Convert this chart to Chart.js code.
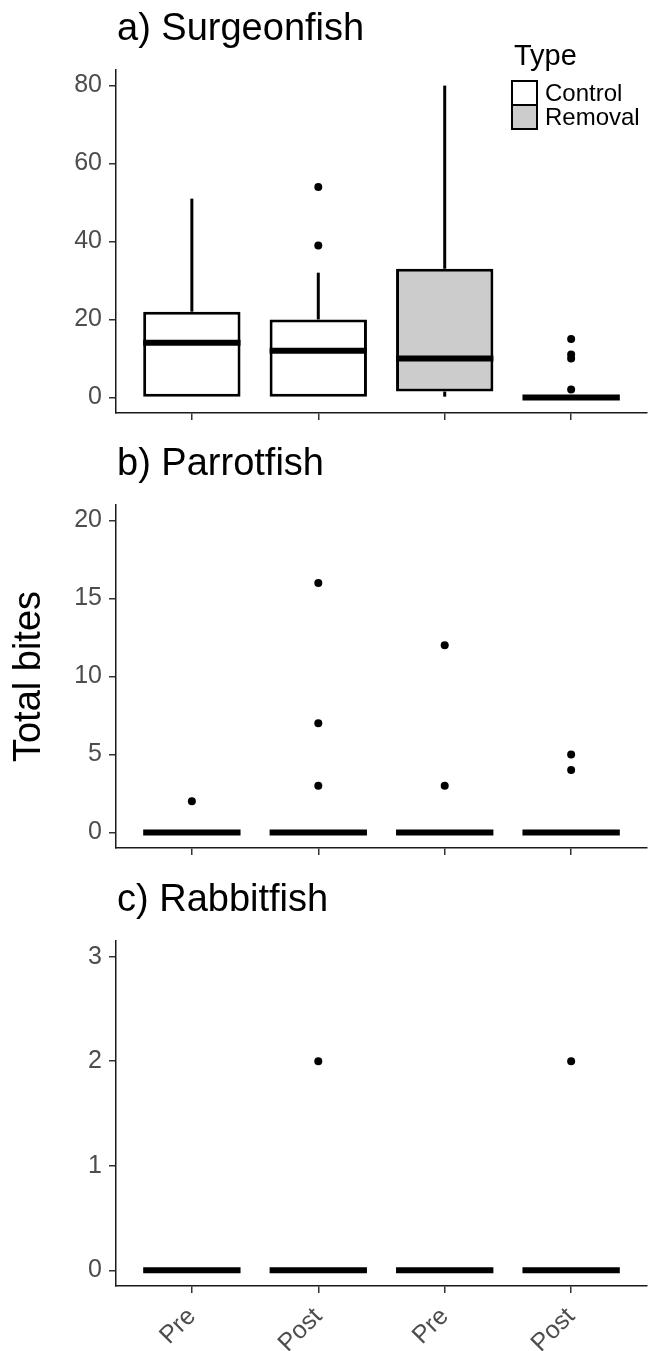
<!DOCTYPE html>
<html>
<head>
<meta charset="utf-8">
<script src="https://cdn.jsdelivr.net/npm/chart.js@4.4.1/dist/chart.umd.min.js"></script>
<style>
  html, body { margin: 0; padding: 0; background: #fff; }
  #fig { position: relative; width: 651px; height: 1351px; overflow: hidden; background: #fff; }
  .panel { position: absolute; left: 0; width: 651px; }
  canvas { display: block; }
</style>
</head>
<body>
<div id="fig">
  <div class="panel" style="top:0;height:435px"><canvas id="surgeon" width="651" height="435"></canvas></div>
  <div class="panel" style="top:435px;height:435px"><canvas id="parrot" width="651" height="435"></canvas></div>
  <div class="panel" style="top:870px;height:481px"><canvas id="rabbit" width="651" height="481"></canvas></div>
</div>
<script>
// Groups along the x axis and the treatment type of each
const groups = ['Pre', 'Post', 'Pre', 'Post'];
const groupTypes = ['Control', 'Control', 'Removal', 'Removal'];
const typeNames = ['Control', 'Removal'];

// a) Surgeonfish: box-plot summaries per group
const surgeonLow = [0, 0, 0, 0];
const surgeonQ1 = [0, 0, 1.5, 0];
const surgeonMedian = [14, 12, 10, 0];
const surgeonQ3 = [22, 20, 33, 0];
const surgeonHigh = [51, 32, 80, 0];
const surgeonOutliers = [[], [39, 54], [], [2, 10, 11, 15]];
const surgeonTicks = [0, 20, 40, 60, 80];
const surgeonLimits = [0, 80];

// b) Parrotfish
const parrotLow = [0, 0, 0, 0];
const parrotQ1 = [0, 0, 0, 0];
const parrotMedian = [0, 0, 0, 0];
const parrotQ3 = [0, 0, 0, 0];
const parrotHigh = [0, 0, 0, 0];
const parrotOutliers = [[2], [3, 7, 16], [3, 12], [4, 5]];
const parrotTicks = [0, 5, 10, 15, 20];
const parrotLimits = [0, 20];

// c) Rabbitfish
const rabbitLow = [0, 0, 0, 0];
const rabbitQ1 = [0, 0, 0, 0];
const rabbitMedian = [0, 0, 0, 0];
const rabbitQ3 = [0, 0, 0, 0];
const rabbitHigh = [0, 0, 0, 0];
const rabbitOutliers = [[], [2], [], [2]];
const rabbitTicks = [0, 1, 2, 3];
const rabbitLimits = [0, 3];

// ---- styling ----
const FONT = '"Liberation Sans", Arial, Helvetica, sans-serif';
const typeFill = { Control: '#FFFFFF', Removal: '#CCCCCC' };
const BOX_WIDTH = 0.77;      // box width in x units
const AXIS_COLOR = '#1a1a1a';
const TICK_COLOR = '#333333';
const LABEL_COLOR = '#4D4D4D';

Chart.defaults.font.family = FONT;

// panel heading, drawn above the plot area, left aligned with it
const panelTitle = {
  id: 'panelTitle',
  afterDraw(chart, args, opts) {
    const { ctx, chartArea } = chart;
    ctx.save();
    ctx.font = '38px ' + FONT;
    ctx.fillStyle = '#000';
    ctx.textAlign = 'left';
    ctx.textBaseline = 'alphabetic';
    ctx.fillText(opts.text, chartArea.left + 1, chartArea.top - 30);
    ctx.restore();
  }
};

// fill legend for the treatment type
const typeLegend = {
  id: 'typeLegend',
  afterDraw(chart, args, opts) {
    if (!opts.show) return;
    const { ctx, chartArea } = chart;
    const left = chartArea.right - 135;
    const top = chartArea.top;
    ctx.save();
    ctx.fillStyle = '#000';
    ctx.textAlign = 'left';
    ctx.textBaseline = 'alphabetic';
    ctx.font = '29px ' + FONT;
    ctx.fillText('Type', left + 2, top - 5);
    const kw = 25, kh = 24;
    typeNames.forEach((name, i) => {
      const ky = top + 11 + i * kh;
      ctx.fillStyle = typeFill[name];
      ctx.fillRect(left, ky, kw, kh);
      ctx.lineWidth = 2;
      ctx.strokeStyle = '#000';
      ctx.strokeRect(left, ky, kw, kh);
      ctx.fillStyle = '#000';
      ctx.font = '24px ' + FONT;
      ctx.textBaseline = 'middle';
      ctx.fillText(name, left + 33, ky + kh / 2 + 1);
      ctx.textBaseline = 'alphabetic';
    });
    ctx.restore();
  }
};

function medianHalfWidth(ctx) {
  const s = ctx.chart.scales.x;
  return Math.abs(s.getPixelForValue(1 + BOX_WIDTH / 2) - s.getPixelForValue(1));
}

function whisker(data, order) {
  return {
    type: 'bar', order, grouped: false, data,
    backgroundColor: '#000', borderWidth: 0, barThickness: 3, inflateAmount: 0
  };
}

function boxDatasets(low, q1, med, q3, high, outliers) {
  const outlierPoints = [];
  outliers.forEach((vals, i) => vals.forEach(v => outlierPoints.push({ x: i + 1, y: v })));
  return [
    // upper and lower whiskers
    whisker(groups.map((g, i) => ({ x: i + 1, y: [q3[i], high[i]] })), 5),
    whisker(groups.map((g, i) => ({ x: i + 1, y: [low[i], q1[i]] })), 4),
    { // boxes (lower to upper quartile)
      type: 'bar', order: 3, grouped: false,
      data: groups.map((g, i) => ({ x: i + 1, y: [q1[i], q3[i]] })),
      backgroundColor: groupTypes.map(t => typeFill[t]),
      borderColor: '#000', borderWidth: 3, borderSkipped: false, inflateAmount: 0,
      barPercentage: BOX_WIDTH, categoryPercentage: 1
    },
    { // medians
      type: 'scatter', order: 2,
      data: groups.map((g, i) => ({ x: i + 1, y: med[i] })),
      pointStyle: 'line', pointRadius: medianHalfWidth, pointHoverRadius: medianHalfWidth,
      pointBorderWidth: 6, pointBorderColor: '#000', pointBackgroundColor: '#000'
    },
    { // outliers
      type: 'scatter', order: 1,
      data: outlierPoints,
      pointStyle: 'circle', pointRadius: 4, pointHoverRadius: 4,
      pointBackgroundColor: '#000', pointBorderWidth: 0
    }
  ];
}

function makePanel(id, title, stats, ticks, limits, cfg) {
  const span = limits[1] - limits[0];
  return new Chart(document.getElementById(id), {
    type: 'bar',
    data: { datasets: boxDatasets(...stats) },
    plugins: [panelTitle, typeLegend],
    options: {
      responsive: false,
      animation: false,
      events: [],
      layout: { padding: { top: cfg.top, left: 0, right: 0, bottom: 0 } },
      plugins: {
        legend: { display: false },
        tooltip: { enabled: false },
        panelTitle: { text: title },
        typeLegend: { show: !!cfg.legend }
      },
      scales: {
        x: {
          type: 'linear',
          offset: false,
          min: 0.4, max: 4.6,
          afterBuildTicks: s => { s.ticks = groups.map((g, i) => ({ value: i + 1 })); },
          ticks: {
            display: !!cfg.xLabels,
            callback: (v, i) => groups[i],
            autoSkip: false,
            minRotation: 45, maxRotation: 45,
            padding: 9,
            color: LABEL_COLOR,
            font: { size: 25 }
          },
          grid: { display: true, offset: false, drawOnChartArea: false, drawTicks: true, tickLength: 7, color: TICK_COLOR, lineWidth: 1.5 },
          border: { display: true, color: AXIS_COLOR, width: 1.5 },
          afterFit: s => { s.height = cfg.xHeight; }
        },
        y: {
          type: 'linear',
          min: limits[0] - 0.05 * span,
          max: limits[1] + 0.05 * span,
          afterBuildTicks: s => { s.ticks = ticks.map(v => ({ value: v })); },
          ticks: { color: LABEL_COLOR, font: { size: 25 }, padding: 7 },
          grid: { display: true, drawOnChartArea: false, drawTicks: true, tickLength: 7, color: TICK_COLOR, lineWidth: 1.5 },
          border: { display: true, color: AXIS_COLOR, width: 1.5 },
          title: {
            display: !!cfg.yTitle,
            text: cfg.yTitle || '',
            color: '#000',
            font: { size: 38 },
            padding: { top: 7, bottom: 0 }
          },
          afterFit: s => { s.width = 116; }
        }
      }
    }
  });
}

makePanel('surgeon', 'a) Surgeonfish',
  [surgeonLow, surgeonQ1, surgeonMedian, surgeonQ3, surgeonHigh, surgeonOutliers],
  surgeonTicks, surgeonLimits, { top: 70, xHeight: 21, legend: true });

makePanel('parrot', 'b) Parrotfish',
  [parrotLow, parrotQ1, parrotMedian, parrotQ3, parrotHigh, parrotOutliers],
  parrotTicks, parrotLimits, { top: 70, xHeight: 21, yTitle: 'Total bites' });

makePanel('rabbit', 'c) Rabbitfish',
  [rabbitLow, rabbitQ1, rabbitMedian, rabbitQ3, rabbitHigh, rabbitOutliers],
  rabbitTicks, rabbitLimits, { top: 71, xHeight: 65, xLabels: true });
</script>
</body>
</html>
